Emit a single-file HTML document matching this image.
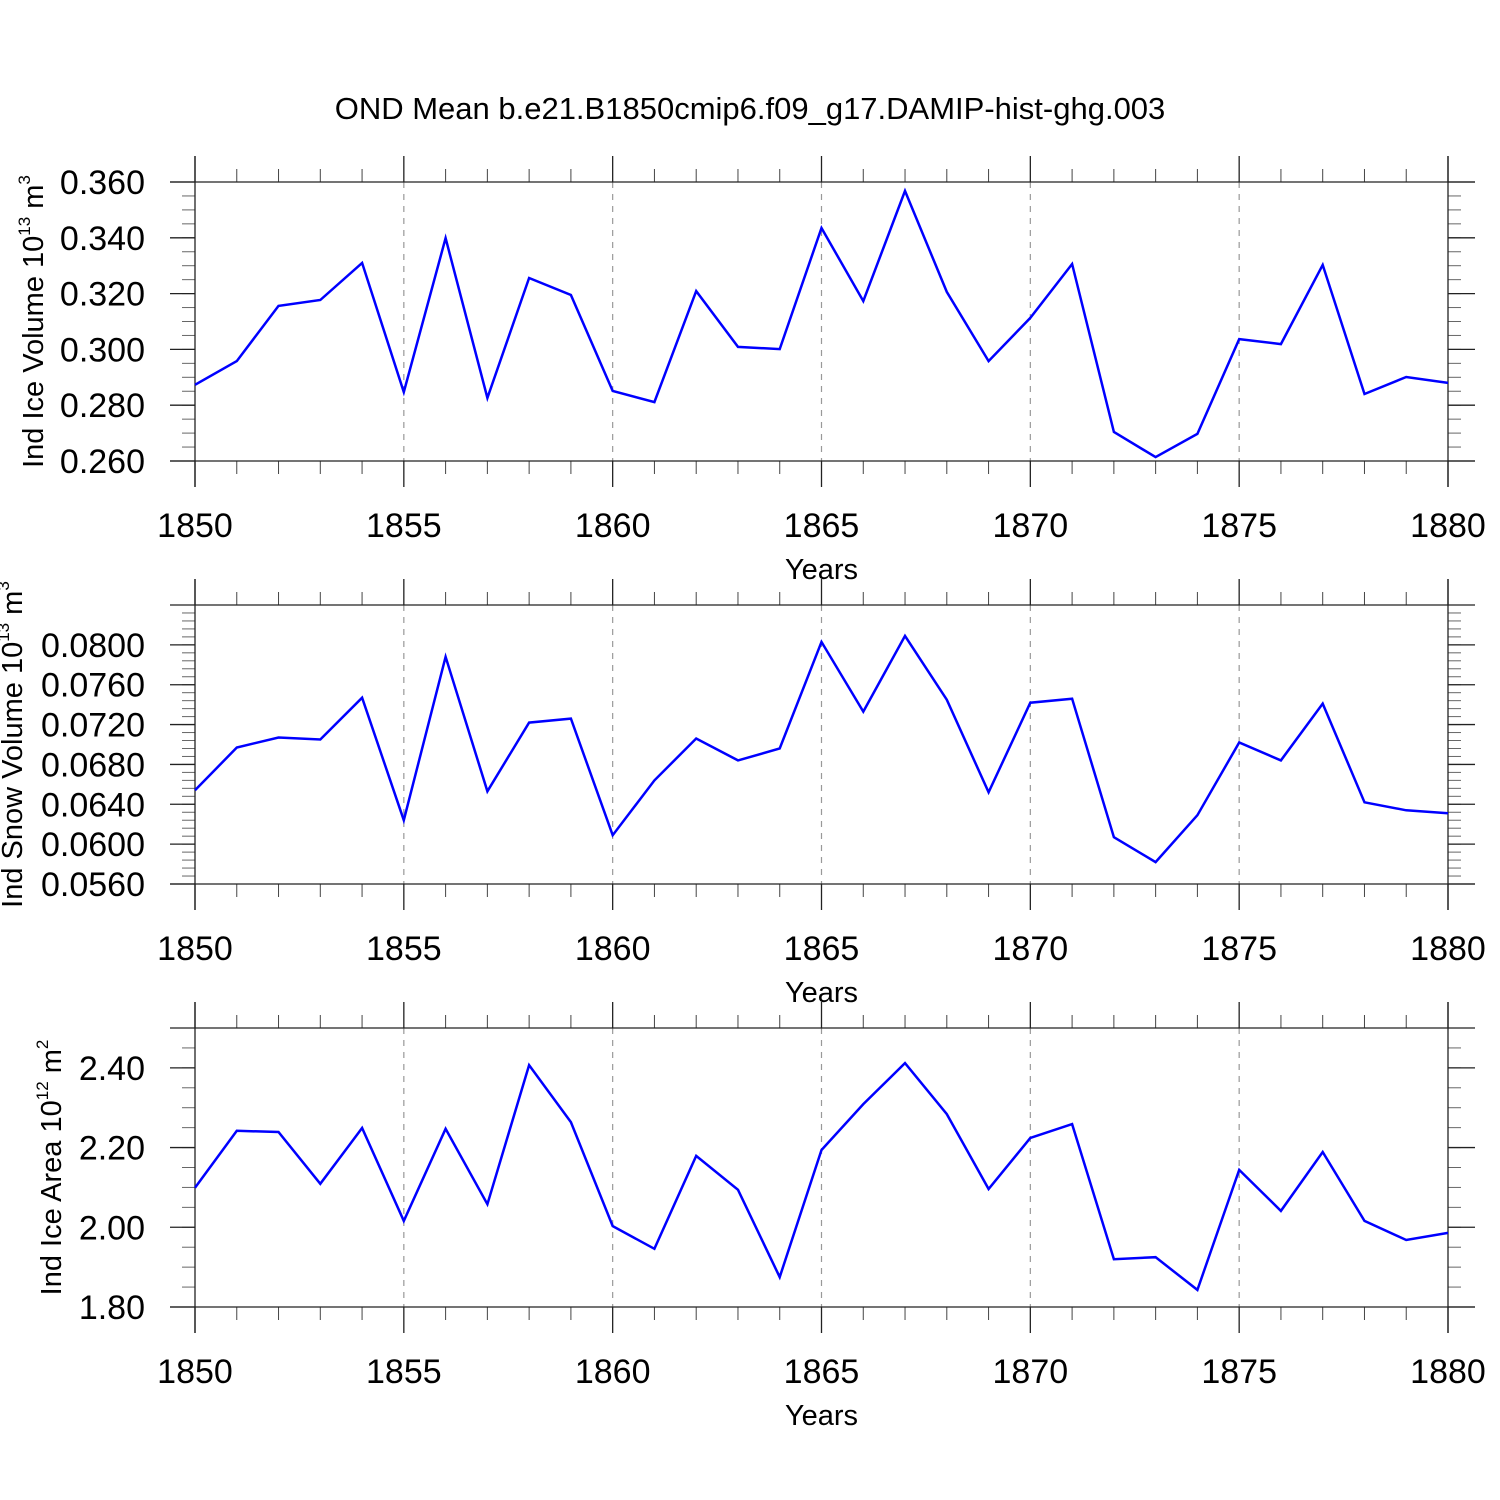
<!DOCTYPE html>
<html><head><meta charset="utf-8"><style>
html,body{margin:0;padding:0;background:#fff;}
svg{display:block;font-family:"Liberation Sans",sans-serif;}
</style></head><body>
<svg id="chart" width="1500" height="1500" viewBox="0 0 1500 1500" xmlns="http://www.w3.org/2000/svg">
<rect width="1500" height="1500" fill="#fff"/>
<text x="750" y="119" text-anchor="middle" font-size="31">OND Mean b.e21.B1850cmip6.f09_g17.DAMIP-hist-ghg.003</text>
</svg>
<script>
const years = [1850,1851,1852,1853,1854,1855,1856,1857,1858,1859,1860,1861,1862,1863,1864,1865,1866,1867,1868,1869,1870,1871,1872,1873,1874,1875,1876,1877,1878,1879,1880];
const iceVolume = [0.2873,0.2958,0.3156,0.3177,0.3310,0.2847,0.3399,0.2826,0.3256,0.3195,0.2851,0.2811,0.3209,0.3009,0.3001,0.3435,0.3173,0.3568,0.3206,0.2958,0.3113,0.3306,0.2704,0.2614,0.2697,0.3037,0.3019,0.3303,0.2840,0.2901,0.2880];
const snowVolume = [0.0654,0.0697,0.0707,0.0705,0.0747,0.0624,0.0788,0.0653,0.0722,0.0726,0.0609,0.0664,0.0706,0.0684,0.0696,0.0803,0.0733,0.0809,0.0745,0.0652,0.0742,0.0746,0.0607,0.0582,0.0629,0.0702,0.0684,0.0741,0.0642,0.0634,0.0631];
const iceArea = [2.099,2.242,2.239,2.109,2.249,2.016,2.247,2.058,2.407,2.264,2.003,1.946,2.179,2.094,1.875,2.194,2.309,2.412,2.284,2.096,2.224,2.259,1.920,1.925,1.843,2.144,2.041,2.189,2.016,1.968,1.986];
const xTicks = [1850,1855,1860,1865,1870,1875,1880];
const iceVolTicks = [0.26,0.28,0.30,0.32,0.34,0.36];
const snowTicks = [0.056,0.060,0.064,0.068,0.072,0.076,0.080];
const areaTicks = [1.8,2.0,2.2,2.4];

const svg = document.getElementById('chart');
const NS = 'http://www.w3.org/2000/svg';
function mk(tag, attrs, parent){
  const e = document.createElementNS(NS, tag);
  for (const k in attrs) e.setAttribute(k, attrs[k]);
  (parent||svg).appendChild(e);
  return e;
}
const X0 = 195, X1 = 1448;
function xs(yr){ return X0 + (yr-1850)/(1880-1850)*(X1-X0); }

function panel(cfg){
  const g = mk('g', {});
  
  
  const top = cfg.top, bot = top + 279;
  const ys = v => bot - (v-cfg.min)/(cfg.max-cfg.min)*(bot-top);
  xTicks.slice(1,-1).forEach(t => {
    const l = mk('line', {x1:xs(t), x2:xs(t), y1:top, y2:bot, stroke:'#999', 'stroke-width':1.2, 'stroke-dasharray':'6,6'}, g);
    
    
  });
  years.forEach(yr => {
    if (xTicks.includes(yr)) return;
    mk('line', {x1:xs(yr), x2:xs(yr), y1:top-13, y2:top, stroke:'#444', 'stroke-width':1}, g);
    mk('line', {x1:xs(yr), x2:xs(yr), y1:bot, y2:bot+13, stroke:'#444', 'stroke-width':1}, g);
  });
  xTicks.forEach(t => {
    mk('line', {x1:xs(t), x2:xs(t), y1:top-26, y2:top, stroke:'#222', 'stroke-width':1.3}, g);
    mk('line', {x1:xs(t), x2:xs(t), y1:bot, y2:bot+26, stroke:'#222', 'stroke-width':1.3}, g);
    const tx = mk('text', {x:xs(t), y:bot+76, 'text-anchor':'middle', 'font-size':34}, g);
    
    
    tx.textContent = t;
  });
  for (let v = cfg.min; v <= cfg.max + 1e-9; v += cfg.minor) {
    const y = ys(v);
    mk('line', {x1:X0-13, x2:X0, y1:y, y2:y, stroke:'#666', 'stroke-width':1}, g);
    mk('line', {x1:X1, x2:X1+13, y1:y, y2:y, stroke:'#666', 'stroke-width':1}, g);
  }
  cfg.ticks.forEach(v => {
    const y = ys(v);
    mk('line', {x1:X0-25, x2:X0, y1:y, y2:y, stroke:'#222', 'stroke-width':1.3}, g);
    mk('line', {x1:X1, x2:X1+27, y1:y, y2:y, stroke:'#222', 'stroke-width':1.3}, g);
    const tx = mk('text', {x:X0-50, y:y+12, 'text-anchor':'end', 'font-size':34}, g);
    
    
    tx.textContent = v.toFixed(cfg.dec);
  });
  mk('line', {x1:X0-25, x2:X1+27, y1:top, y2:top, stroke:'#222', 'stroke-width':1.3}, g);
  mk('line', {x1:X0-25, x2:X1+27, y1:bot, y2:bot, stroke:'#222', 'stroke-width':1.3}, g);
  mk('line', {x1:X0, x2:X0, y1:top-26, y2:bot+26, stroke:'#222', 'stroke-width':1.3}, g);
  mk('line', {x1:X1, x2:X1, y1:top-26, y2:bot+26, stroke:'#222', 'stroke-width':1.3}, g);
  const pts = years.map((yr,i) => xs(yr).toFixed(1)+','+ys(cfg.data[i]).toFixed(1)).join(' ');
  const pl = mk('polyline', {points:pts, fill:'none', stroke:'#0000ff', 'stroke-width':2.5}, g);
  
  
  const xt = mk('text', {x:(X0+X1)/2, y:bot+118, 'text-anchor':'middle', 'font-size':29}, g);
  
  
  xt.textContent = 'Years';
  const cy = (top+bot)/2 + cfg.yoff;
  const yt = mk('text', {x:0, y:0, 'text-anchor':'middle', 'font-size':29, transform:`translate(${cfg.tx},${cy}) rotate(-90)`}, g);
  
  
  yt.innerHTML = cfg.title;
}

panel({name:'ice-volume-panel', top:182, min:0.26, max:0.36, minor:0.005, ticks:iceVolTicks, dec:3, data:iceVolume, tx:43, yoff:0,
  title:'Ind Ice Volume 10<tspan dy="-13" font-size="17">13</tspan><tspan dy="13"> m</tspan><tspan dy="-13" font-size="17">3</tspan>'});
panel({name:'snow-volume-panel', top:605, min:0.056, max:0.084, minor:0.0008, ticks:snowTicks, dec:4, data:snowVolume, tx:22, yoff:0,
  title:'Ind Snow Volume 10<tspan dy="-13" font-size="17">13</tspan><tspan dy="13"> m</tspan><tspan dy="-13" font-size="17">3</tspan>'});
panel({name:'ice-area-panel', top:1028, min:1.8, max:2.5, minor:0.05, ticks:areaTicks, dec:2, data:iceArea, tx:61, yoff:0,
  title:'Ind Ice Area 10<tspan dy="-13" font-size="17">12</tspan><tspan dy="13"> m</tspan><tspan dy="-13" font-size="17">2</tspan>'});
</script>
</body></html>
